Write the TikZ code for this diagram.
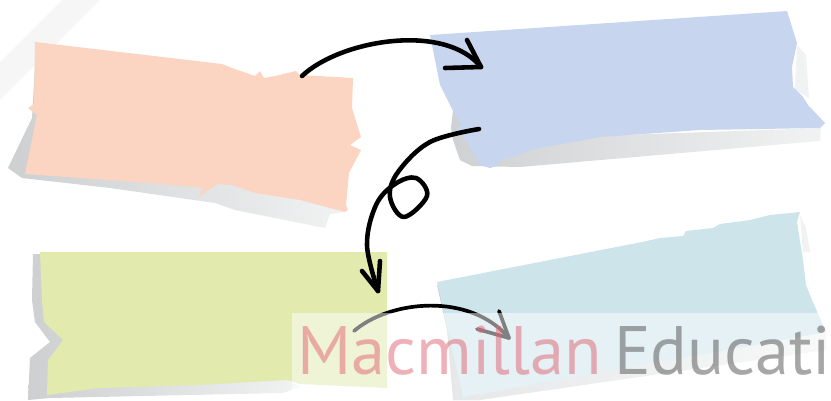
\documentclass[tikz,border=0pt]{standalone}
\usepackage{fontspec}
\setmainfont{PT Sans}
\usetikzlibrary{calc}
\definecolor{notesalmon}{HTML}{FBD4C2}
\definecolor{noteblue}{HTML}{C7D5EE}
\definecolor{notegreen}{HTML}{E2EAAE}
\definecolor{notecyan}{HTML}{CCE4EA}
\definecolor{shadowdark}{HTML}{CDCFD1}
\definecolor{shadowlight}{HTML}{F1F2F2}
\definecolor{wmred}{HTML}{DF636F}
\definecolor{wmgray}{HTML}{505050}

\begin{document}
\begin{tikzpicture}[x=0.02cm,y=-0.02cm,
    arr/.style={line width=2.6pt,line cap=round,line join=round},
    shadow/.style={left color=shadowdark,right color=shadowlight}]
    \useasboundingbox (0,0) rectangle (831,400);
    \fill[gray!7] (0,62) -- (62,0) -- (100,0) -- (0,100) -- cycle;
    % shadows
    \shade[shadow] (8,168) -- (32,118) -- (36,46) -- (345,212) -- (330,214) -- (325,228) -- (235,210) -- (215,203) -- (110,188) -- (22,178) -- cycle;
    \shade[shadow] (432,37) -- (443,83) -- (453,110) -- (451,128) -- (453,140) -- (460,160) -- (472,166) -- (520,167) -- (820,141) -- (821,128) -- (480,140) -- cycle;
    \fill[shadowlight] (797,45) -- (806,55) -- (809,98) -- (795,90) -- cycle;
    \shade[shadow] (33,254) -- (60,254) -- (300,387) -- (283,393) -- (50,398) -- (28,400) -- (30,358) -- (50,342) -- (35,322) -- (32,300) -- cycle;
    \shade[shadow] (437,285) -- (447,330) -- (453,400) -- (480,400) -- (826,350) -- (826,330) -- cycle;
    \fill[shadowlight] (800,215) -- (806,228) -- (810,252) -- (803,252) -- cycle;
    % notes
    \fill[notesalmon] (35,42) -- (222,64) -- (232,68) -- (255,76) -- (260,71) -- (264,78) -- (275,76) -- (296,71) -- (300,75) -- (353,78) -- (352,108) -- (361,137) -- (350,145) -- (361,150) -- (349,173) -- (346,205) -- (348,210) -- (345,212) -- (300,200) -- (255,193) -- (232,185) -- (218,184) -- (205,192) -- (198,198) -- (203,188) -- (150,183) -- (25,174) -- (37,115) -- (28,108) -- (34,104) -- cycle;
    \fill[noteblue] (430,35) -- (787,11) -- (797,43) -- (792,67) -- (793,87) -- (803,97) -- (808,105) -- (825,123) -- (820,128) -- (700,130) -- (600,137) -- (540,148) -- (525,152) -- (520,155) -- (500,160) -- (497,166) -- (490,168) -- (480,165) -- (465,140) -- (455,128) -- (462,125) -- (457,118) -- (450,105) -- (440,85) -- cycle;
    \fill[notegreen] (40,252) -- (387,252) -- (387,388) -- (300,384) -- (287,380) -- (200,385) -- (100,388) -- (47,395) -- (48,360) -- (63,340) -- (44,322) -- (42,300) -- cycle;
    \fill[notecyan] (437,282) -- (642,242) -- (660,238) -- (683,236) -- (686,231) -- (713,228) -- (720,224) -- (750,220) -- (770,215) -- (800,212) -- (797,222) -- (803,260) -- (806,285) -- (812,300) -- (826,332) -- (800,337) -- (463,397) -- cycle;
    % arrows
    \coordinate (s1) at (302,76);
    \coordinate (t1) at (481,67);
    \coordinate (s2) at (479,129);
    \coordinate (t2) at (378,291);
    \coordinate (s3) at (354,331);
    \coordinate (t3) at (509,338);
    \draw[arr] (s1) .. controls (340,40) and (445,22) .. (t1);
    \draw[arr] (t1) -- ++(-14,-27) (t1) -- ++(-36,1);
    \draw[arr] plot[smooth,tension=0.6] coordinates {(s2) (430,142) (398,172) (390,197) (404,217) (427,196) (416,178) (395,184) (376,205) (367,245) (t2)};
    \draw[arr] (t2) -- ++(-16,-20) (t2) -- ++(2,-30);
    \draw[arr,line width=2.1pt] (s3) .. controls (390,300) and (470,292) .. (t3);
    \draw[arr,line width=2.1pt] (t3) -- ++(-10,-27) (t3) -- ++(-32,-9);
    % watermark
    \fill[white,opacity=0.5] (292,313) rectangle (831,400);
    \node[anchor=base west,inner sep=0,text opacity=0.5,font=\fontsize{39}{39}\selectfont] (wm) at (297,374) {\textcolor{wmred}{Macmillan}\hspace{0.18em}\textcolor{wmgray}{Educati}};
\end{tikzpicture}
\end{document}
